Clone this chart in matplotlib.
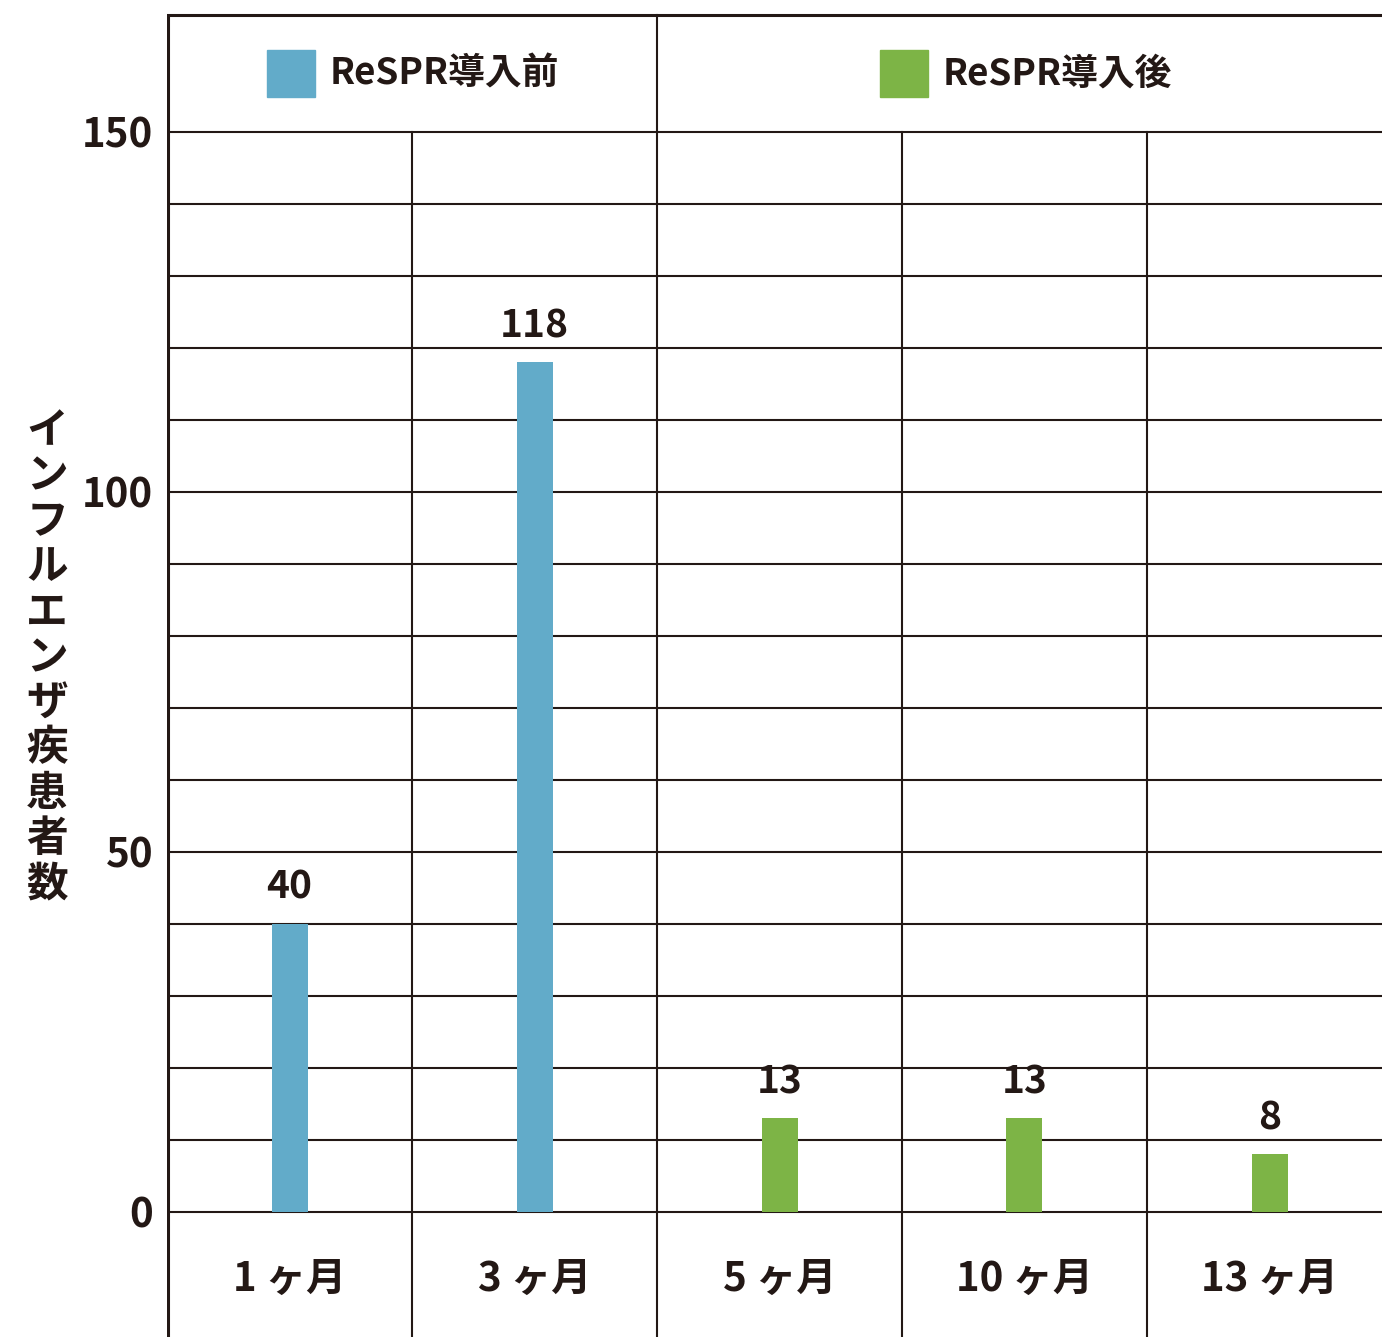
import matplotlib.pyplot as plt

plt.rcParams['font.family'] = ['Noto Sans CJK JP', 'DejaVu Sans']

categories = ["1 ヶ月", "3 ヶ月", "5 ヶ月", "10 ヶ月", "13 ヶ月"]
values = [40, 118, 13, 13, 8]
groups = ["ReSPR導入前", "ReSPR導入前", "ReSPR導入後", "ReSPR導入後", "ReSPR導入後"]
legend_labels = ["ReSPR導入前", "ReSPR導入後"]
yticks = [0, 50, 100, 150]
ylabel = "インフルエンザ疾患者数"

colors = {"ReSPR導入前": "#62abc9", "ReSPR導入後": "#7db446"}
line_c = "#231815"

W, H = 1382, 1337
fig = plt.figure(figsize=(W / 100, H / 100), dpi=100)
left = 167 / W
ax = fig.add_axes([left, 0, 1 - left, 1])

# pixel mapping: 0 -> 1212 px, 150 -> 132 px
ppu = 7.2
ymin = -(H - 1212) / ppu
ax.set_ylim(ymin, 1212 / ppu)
col_w = 245
xmin = -0.5
ax.set_xlim(xmin, xmin + (W - 167) / col_w)

for s in ax.spines.values():
    s.set_visible(False)

top_v = (1212 - 15) / ppu

# horizontal grid lines
for v in range(0, 151, 10):
    ax.axhline(v, color=line_c, lw=1.5, zorder=1)
ax.axhline(top_v, color=line_c, lw=2.2, zorder=1)

# left border
ax.plot([xmin + 0.004, xmin + 0.004], [ymin, top_v], color=line_c, lw=2.2,
        zorder=1, solid_capstyle="butt")

# vertical dividers
for i in range(1, len(categories)):
    x = i - 0.5
    y_end = top_v if i == 2 else 150
    ax.plot([x, x], [ymin, y_end], color=line_c, lw=1.5, zorder=1)

xs = list(range(len(categories)))
bar_colors = [colors[g] for g in groups]
ax.bar(xs, values, width=36 / col_w, color=bar_colors, zorder=2)

for x, v in zip(xs, values):
    ax.text(x, v + 2.4, str(v), ha="center", va="bottom", fontsize=28,
            fontweight="bold", color=line_c, zorder=3)

for x, c in zip(xs, categories):
    ax.text(x, -9.4, c, ha="center", va="center", fontsize=29,
            fontweight="bold", color=line_c)

ax.set_xticks([])
ax.set_yticks(yticks)
ax.set_yticklabels([str(t) for t in yticks], fontsize=29, fontweight="bold", color=line_c)
ax.tick_params(axis="y", length=0, pad=10)

# header legend
legend_x = [(267 - 167) / col_w + xmin, (880 - 167) / col_w + xmin]
legend_y = (1212 - 74) / ppu
for lx, lab in zip(legend_x, legend_labels):
    ax.add_patch(plt.Rectangle((lx, (1212 - 97) / ppu), 48 / col_w, 47 / ppu,
                               color=colors[lab], clip_on=False, zorder=3))
    ax.text(lx + 63 / col_w, legend_y, lab, ha="left", va="center", fontsize=26.5,
            fontweight="bold", color=line_c)

# vertical y-label with upright characters
fig.text(47 / W, 1 - 658 / H, "\n".join(ylabel), ha="center", va="center",
         fontsize=30, fontweight="bold", color=line_c, linespacing=1.1)

fig.savefig("out.png", dpi=100)
